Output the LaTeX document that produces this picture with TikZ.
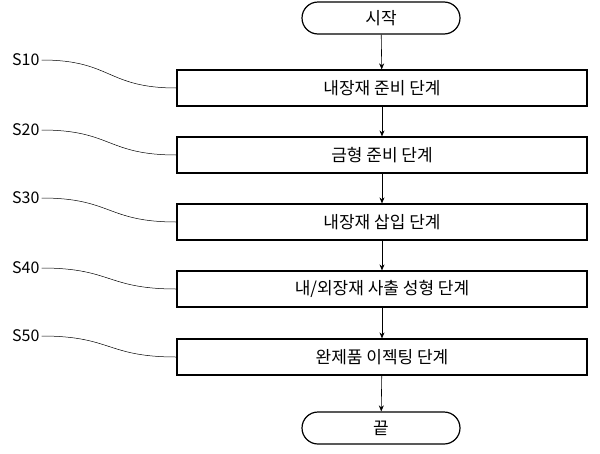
\documentclass[tikz,border=0pt]{standalone}
\usepackage{fontspec}
\setmainfont{Noto Sans CJK KR}
\usetikzlibrary{arrows.meta,shapes.misc}
\begin{document}
\begin{tikzpicture}[x=1pt,y=-1pt,
  stepbox/.style={draw,line width=1.2pt,minimum width=410pt,minimum height=36pt,inner sep=0pt,font=\fontsize{17}{20}\selectfont},
  term/.style={draw,line width=1.2pt,rounded rectangle,minimum width=158pt,minimum height=32pt,inner sep=0pt,font=\fontsize{17}{20}\selectfont},
  lab/.style={font=\fontsize{16}{18}\selectfont,anchor=west,inner sep=0pt},
  arr/.style={-{Stealth[length=6pt,width=5pt]},line width=0.6pt},
  lead/.style={line width=0.5pt}]
\useasboundingbox (0,0) rectangle (600,453);
\node[term] (st) at (381,18) {시작};
\node[stepbox] (b1) at (382,88) {내장재 준비 단계};
\node[stepbox] (b2) at (382,155) {금형 준비 단계};
\node[stepbox] (b3) at (382,222) {내장재 삽입 단계};
\node[stepbox] (b4) at (382,289) {내/외장재 사출 성형 단계};
\node[stepbox] (b5) at (382,357) {완제품 이젝팅 단계};
\node[term] (en) at (381,428) {끝};
\draw[arr] (st) -- (b1);
\draw[arr] (b1) -- (b2);
\draw[arr] (b2) -- (b3);
\draw[arr] (b3) -- (b4);
\draw[arr] (b4) -- (b5);
\draw[arr] (b5) -- (en);
\foreach \i/\n/\y in {1/S10/60,2/S20/130,3/S30/198,4/S40/268,5/S50/336}{
  \node[lab] (l\i) at (12,\y) {\n};
  \coordinate (e\i) at (b\i.west);
  \draw[lead] (l\i.east) ++(2,0) .. controls ++(70,0) and ++(-70,0) .. (e\i);
}
\end{tikzpicture}
\end{document}
